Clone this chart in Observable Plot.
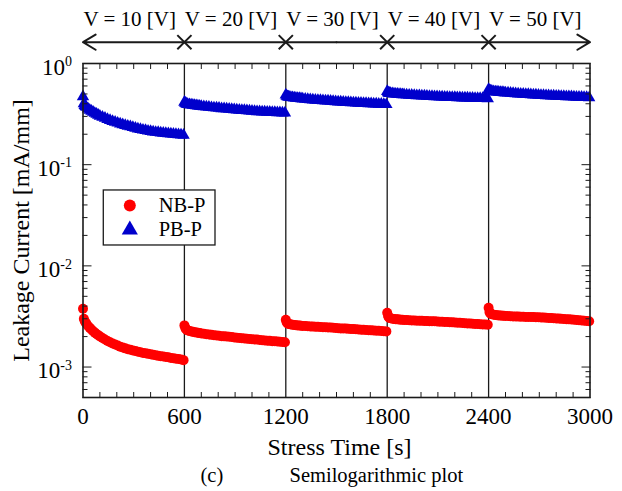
<!DOCTYPE html>
<html>
<head>
<meta charset="utf-8">
<script src="https://cdn.jsdelivr.net/npm/d3@7"></script>
<script src="https://cdn.jsdelivr.net/npm/@observablehq/plot@0.6"></script>
<style>
  html, body { margin: 0; padding: 0; background: #fff; }
</style>
</head>
<body>
<div id="chart"></div>
<script>
// ---- Data ----
const stepLabels = ["V = 10 [V]", "V = 20 [V]", "V = 30 [V]", "V = 40 [V]", "V = 50 [V]"];
const stepStarts = [0, 600, 1200, 1800, 2400];
const xMajorTicks = [0, 600, 1200, 1800, 2400, 3000];
const yMajorTicks = [1e-3, 1e-2, 1e-1, 1];
// sample times (s) inside each 600 s stress step
const offsets = [0, 5, 10, 15, 20, 30, 40, 50, 60, 70, 80, 90, 100,
                 115, 130, 145, 160, 175, 190, 205, 220, 235, 250, 265,
                 280, 295, 310, 325, 340, 355, 370, 385, 400, 415, 430,
                 445, 460, 475, 490, 505, 520, 535, 550, 565, 580, 595];

// NB-P leakage current, in 10^-3 mA/mm, one row per stress step
const nbpE3 = [
  [3.77, 3.00, 2.85, 2.76, 2.68, 2.54, 2.44, 2.35, 2.26, 2.19, 2.12, 2.06, 2.01,
   1.94, 1.87, 1.81, 1.76, 1.71, 1.67, 1.63, 1.59, 1.56, 1.53, 1.50,
   1.48, 1.46, 1.44, 1.42, 1.40, 1.38, 1.37, 1.35, 1.34, 1.32, 1.31,
   1.29, 1.28, 1.27, 1.26, 1.25, 1.23, 1.22, 1.21, 1.20, 1.185, 1.17],
  [2.58, 2.44, 2.36, 2.32, 2.30, 2.27, 2.25, 2.23, 2.21, 2.195, 2.18, 2.165, 2.15,
   2.13, 2.11, 2.10, 2.08, 2.06, 2.05, 2.04, 2.02, 2.01, 2.00, 1.99,
   1.98, 1.96, 1.95, 1.94, 1.93, 1.92, 1.90, 1.89, 1.88, 1.875, 1.87,
   1.85, 1.84, 1.83, 1.82, 1.815, 1.80, 1.795, 1.79, 1.78, 1.77, 1.76],
  [2.93, 2.77, 2.70, 2.68, 2.66, 2.63, 2.62, 2.60, 2.59, 2.58, 2.57, 2.56, 2.55,
   2.54, 2.53, 2.52, 2.51, 2.50, 2.495, 2.49, 2.48, 2.47, 2.46, 2.455,
   2.445, 2.435, 2.42, 2.41, 2.405, 2.40, 2.385, 2.375, 2.37, 2.36, 2.35,
   2.34, 2.33, 2.32, 2.31, 2.305, 2.295, 2.285, 2.28, 2.27, 2.26, 2.25],
  [3.44, 3.20, 3.09, 3.05, 3.03, 3.00, 2.985, 2.975, 2.96, 2.95, 2.94, 2.93, 2.92,
   2.91, 2.90, 2.89, 2.88, 2.87, 2.865, 2.86, 2.85, 2.845, 2.84, 2.835,
   2.83, 2.82, 2.81, 2.80, 2.795, 2.785, 2.775, 2.765, 2.76, 2.745, 2.735,
   2.725, 2.71, 2.70, 2.695, 2.685, 2.67, 2.66, 2.65, 2.64, 2.63, 2.62],
  [3.85, 3.50, 3.38, 3.34, 3.32, 3.29, 3.27, 3.255, 3.24, 3.23, 3.22, 3.21, 3.20,
   3.19, 3.175, 3.165, 3.155, 3.15, 3.145, 3.14, 3.13, 3.125, 3.12, 3.115,
   3.11, 3.10, 3.09, 3.08, 3.07, 3.055, 3.045, 3.03, 3.02, 3.01, 2.995,
   2.985, 2.97, 2.96, 2.945, 2.93, 2.915, 2.90, 2.89, 2.875, 2.855, 2.84]
];

// PB-P leakage current, in mA/mm, one row per stress step
const pbp = [
  [0.470, 0.400, 0.385, 0.377, 0.370, 0.355, 0.346, 0.338, 0.330, 0.322, 0.315, 0.308, 0.302,
   0.295, 0.288, 0.280, 0.274, 0.268, 0.263, 0.258, 0.253, 0.248, 0.244, 0.240,
   0.237, 0.233, 0.230, 0.226, 0.223, 0.220, 0.218, 0.215, 0.213, 0.211, 0.209,
   0.208, 0.206, 0.205, 0.204, 0.203, 0.201, 0.200, 0.199, 0.198, 0.197, 0.196],
  [0.415, 0.405, 0.400, 0.397, 0.395, 0.392, 0.390, 0.387, 0.385, 0.383, 0.381, 0.379, 0.377,
   0.375, 0.372, 0.370, 0.367, 0.365, 0.363, 0.361, 0.358, 0.357, 0.355, 0.353,
   0.351, 0.350, 0.348, 0.346, 0.344, 0.343, 0.341, 0.340, 0.338, 0.337, 0.335,
   0.334, 0.333, 0.332, 0.331, 0.330, 0.329, 0.328, 0.327, 0.326, 0.3255, 0.325],
  [0.490, 0.475, 0.470, 0.467, 0.465, 0.462, 0.459, 0.457, 0.455, 0.453, 0.451, 0.449, 0.447,
   0.445, 0.442, 0.440, 0.437, 0.435, 0.433, 0.431, 0.429, 0.427, 0.426, 0.424,
   0.422, 0.420, 0.418, 0.417, 0.415, 0.413, 0.412, 0.410, 0.409, 0.408, 0.406,
   0.405, 0.404, 0.403, 0.401, 0.400, 0.399, 0.398, 0.397, 0.396, 0.394, 0.393],
  [0.530, 0.515, 0.510, 0.508, 0.506, 0.503, 0.501, 0.499, 0.497, 0.4955, 0.494, 0.4925, 0.491,
   0.489, 0.487, 0.486, 0.484, 0.482, 0.480, 0.478, 0.477, 0.475, 0.474, 0.472,
   0.471, 0.469, 0.468, 0.467, 0.466, 0.465, 0.463, 0.462, 0.461, 0.460, 0.459,
   0.458, 0.457, 0.456, 0.455, 0.454, 0.453, 0.4525, 0.452, 0.451, 0.4505, 0.450],
  [0.555, 0.540, 0.535, 0.532, 0.530, 0.527, 0.525, 0.523, 0.521, 0.519, 0.517, 0.515, 0.513,
   0.511, 0.508, 0.506, 0.503, 0.501, 0.499, 0.497, 0.495, 0.494, 0.492, 0.490,
   0.488, 0.487, 0.485, 0.483, 0.482, 0.480, 0.479, 0.477, 0.476, 0.475, 0.473,
   0.472, 0.471, 0.470, 0.469, 0.467, 0.466, 0.465, 0.464, 0.463, 0.461, 0.460]
];

// ---- Build tables ----
const nbRows = [], pbRows = [];
stepStarts.forEach((s, i) => offsets.forEach((o, j) => {
  if (nbpE3[i][j] != null) nbRows.push({t: s + o, v: nbpE3[i][j] / 1000});
  if (pbp[i][j] != null) pbRows.push({t: s + o, v: pbp[i][j]});
}));
const xMinorTicks = d3.range(100, 3000, 100).filter(d => d % 600 !== 0);
const yMinorTicks = [];
for (const e of [-4, -3, -2, -1]) for (let k = 2; k <= 9; k++) {
  const v = k * Math.pow(10, e);
  if (v >= 5e-4 && v < 1) yMinorTicks.push(v);
}
const stepRows = stepLabels.map((label, i) => ({label, mid: stepStarts[i] + 300}));

const ink = "#1a1a1a";
const yArrow = 1.624, yStepLabel = 2.765;

const plot = Plot.plot({
  width: 622,
  height: 491,
  marginLeft: 82.5,
  marginRight: 32.5,
  marginTop: 63,
  marginBottom: 94,
  style: {fontFamily: "'Liberation Serif', 'Times New Roman', serif", background: "#fff", color: "#000", overflow: "visible"},
  x: {domain: [0, 3000], label: null},
  y: {type: "log", domain: [5e-4, 1], label: null},
  marks: [
    // stress-step separators
    Plot.ruleX(stepStarts.slice(1), {stroke: ink, strokeWidth: 1.3}),
    // data
    Plot.dot(pbRows, {x: "t", y: "v", symbol: "triangle", r: 4.6, fill: "#0000cc", stroke: "none"}),
    Plot.dot(nbRows, {x: "t", y: "v", symbol: "circle", r: 5, fill: "#ff0000", stroke: "none"}),
    // legend
    Plot.rect([0], {x1: () => 123, x2: () => 784, y1: () => 0.0159, y2: () => 0.0556, fill: "#fff", stroke: ink, strokeWidth: 1.3}),
    Plot.dot(["NB-P"], {x: () => 277, y: () => 0.0395, symbol: "circle", r: 6, fill: "#ff0000"}),
    Plot.dot(["PB-P"], {x: () => 277, y: () => 0.0227, symbol: "triangle", r: 6, fill: "#0000cc"}),
    Plot.text(["NB-P"], {x: () => 448, y: () => 0.0395, text: d => d, textAnchor: "start", fontSize: 20.5}),
    Plot.text(["PB-P"], {x: () => 448, y: () => 0.0227, text: d => d, textAnchor: "start", fontSize: 20.5}),
    // ticks (inward)
    Plot.axisX(xMinorTicks, {anchor: "bottom", tickSize: -5, tickFormat: () => "", stroke: ink, label: null}),
    Plot.axisX(xMinorTicks, {anchor: "top", tickSize: -5, tickFormat: () => "", stroke: ink, label: null}),
    Plot.axisY(yMinorTicks, {anchor: "left", tickSize: -5, tickFormat: () => "", stroke: ink, label: null}),
    Plot.axisY(yMinorTicks, {anchor: "right", tickSize: -5, tickFormat: () => "", stroke: ink, label: null}),
    Plot.axisY(yMajorTicks, {anchor: "left", tickSize: -9, tickFormat: () => "", stroke: ink, label: null}),
    Plot.axisY(yMajorTicks, {anchor: "right", tickSize: -9, tickFormat: () => "", stroke: ink, label: null}),
    // tick labels
    Plot.axisX(xMajorTicks, {anchor: "bottom", tickSize: 0, tickPadding: 10, fontSize: 23, tickFormat: d => String(d), label: null}),
    Plot.axisY(yMajorTicks, {anchor: "left", tickSize: 0, tickPadding: 11, fontSize: 23, dy: 4,
      tickFormat: d => "10^" + Math.round(Math.log10(d)), label: null}),
    // frame
    Plot.frame({stroke: ink, strokeWidth: 1.6}),
    // axis titles & caption
    Plot.text(["Stress Time [s]"], {frameAnchor: "bottom", dy: 50, dx: 3, fontSize: 24, lineAnchor: "middle", text: d => d}),
    Plot.text(["Leakage Current [mA/mm]"], {frameAnchor: "left", dx: -62, rotate: -90, fontSize: 24,
      textAnchor: "middle", lineAnchor: "middle", text: d => d}),
    Plot.text(["(c)"], {frameAnchor: "bottom-left", dx: 117.5, dy: 78, textAnchor: "start", lineAnchor: "middle", fontSize: 20.5, text: d => d}),
    Plot.text(["Semilogarithmic plot"], {frameAnchor: "bottom-left", dx: 206.5, dy: 78, textAnchor: "start", lineAnchor: "middle", fontSize: 20.5, text: d => d}),
    // stress-voltage annotation above the plot
    Plot.arrow([{a: 1500, b: 0}, {a: 1500, b: 3000}], {x1: "a", x2: "b", y1: () => yArrow, y2: () => yArrow,
      stroke: ink, strokeWidth: 2, headLength: 11, headAngle: 62, bend: 0}),
    Plot.dot(stepStarts.slice(1), {x: d => d, y: () => yArrow, symbol: "times", r: 6.5, stroke: ink, strokeWidth: 2}),
    Plot.text(stepRows, {x: "mid", y: () => yStepLabel, text: "label", dx: -4, fontSize: 21})
  ]
});

// superscript exponents on the log axis labels
d3.select(plot).selectAll("text").each(function () {
  const s = this.textContent;
  const m = /^10\^(-?\d+)$/.exec(s);
  if (!m) return;
  const t = d3.select(this);
  t.text("");
  t.append("tspan").text("10");
  t.append("tspan").attr("dy", "-0.62em").attr("font-size", "14px").text(m[1]);
});

document.getElementById("chart").appendChild(plot);
</script>
</body>
</html>
